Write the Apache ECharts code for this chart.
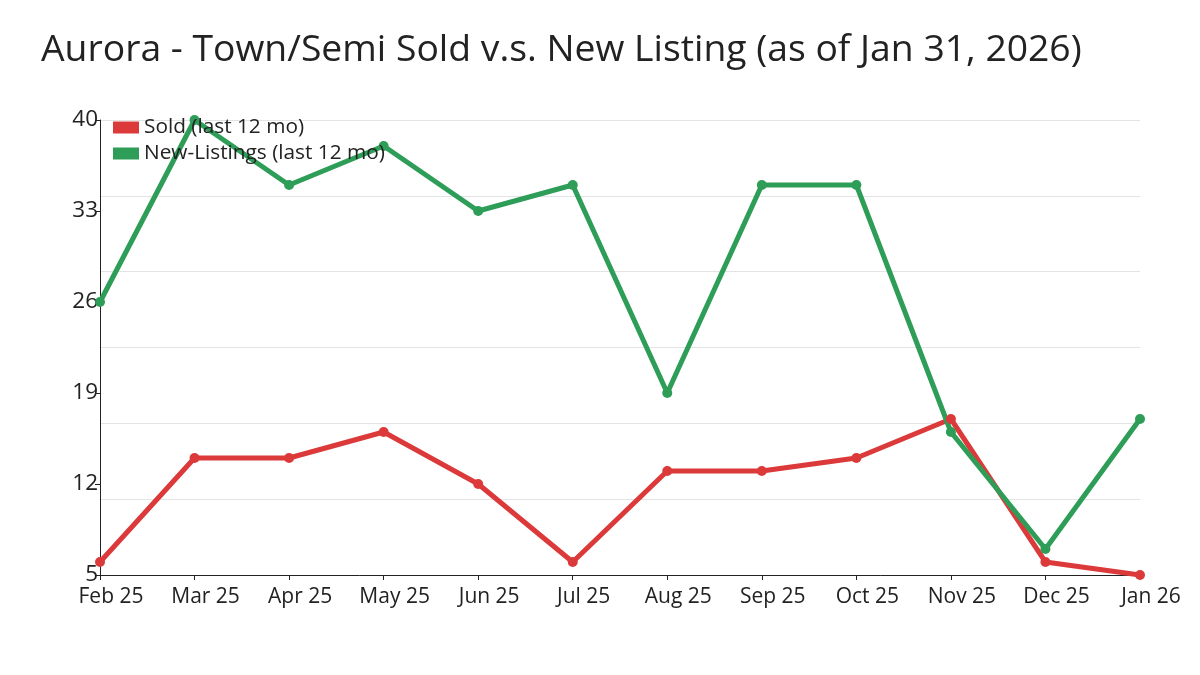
<!DOCTYPE html>
<html>
<head>
<meta charset="utf-8">
<script src="https://cdn.jsdelivr.net/npm/echarts@6/dist/echarts.min.js"></script>
<style>html,body{margin:0;padding:0;background:#fff}#c{width:1200px;height:675px}</style>
</head>
<body>
<div id="c"></div>
<script>
const categories = ['Feb 25','Mar 25','Apr 25','May 25','Jun 25','Jul 25','Aug 25','Sep 25','Oct 25','Nov 25','Dec 25','Jan 26'];
const soldValues = [6, 14, 14, 16, 12, 6, 13, 13, 14, 17, 6, 5];
const newListingValues = [26, 40, 35, 38, 33, 35, 19, 35, 35, 16, 7, 17];
const yTickLabels = [5, 12, 19, 26, 33, 40];

const chart = echarts.init(document.getElementById('c'));
const font = '"Open Sans", "Noto Sans", sans-serif';
chart.setOption({
  animation: false,
  backgroundColor: '#fff',
  title: {
    text: 'Aurora - Town/Semi Sold v.s. New Listing (as of Jan 31, 2026)',
    left: 36, top: 27,
    textStyle: {fontFamily: font, fontSize: 37.3, fontWeight: 'normal', color: '#222'}
  },
  legend: {
    orient: 'vertical', left: 108, top: 112,
    itemWidth: 26, itemHeight: 12, itemGap: 5,
    icon: 'rect',
    textStyle: {fontFamily: font, fontSize: 20.8, color: '#222'},
    data: ['Sold (last 12 mo)', 'New-Listings (last 12 mo)']
  },
  grid: {left: 100, right: 60, top: 120, bottom: 100, containLabel: false},
  xAxis: {
    type: 'category', data: categories, boundaryGap: false,
    axisLine: {lineStyle: {color: '#222', width: 1}},
    axisTick: {show: true, alignWithLabel: true, length: 5, lineStyle: {color: '#222'}},
    axisLabel: {fontFamily: font, fontSize: 21, color: '#222', margin: 12, padding: [0, 0, 0, 22]},
    splitLine: {show: false}
  },
  yAxis: [{
    type: 'value', min: 5, max: 40,
    axisLine: {show: true, lineStyle: {color: '#222', width: 1}},
    axisTick: {show: true, length: 5, lineStyle: {color: '#222'}, customValues: yTickLabels},
    axisLabel: {fontFamily: font, fontSize: 22.5, color: '#222', margin: 2, customValues: yTickLabels},
    splitLine: {show: false}
  }, {
    type: 'value', min: 0, max: 6, interval: 1, position: 'left',
    axisLine: {show: false}, axisTick: {show: false}, axisLabel: {show: false},
    splitLine: {show: true, lineStyle: {color: '#e3e3e3', width: 1}}
  }],
  series: [{
    name: 'Sold (last 12 mo)', type: 'line', data: soldValues,
    yAxisIndex: 0,
    color: '#dc3a3a',
    symbol: 'circle', symbolSize: 10,
    lineStyle: {width: 5, color: '#dc3a3a'},
    itemStyle: {color: '#dc3a3a'}
  }, {
    name: 'New-Listings (last 12 mo)', type: 'line', data: newListingValues,
    yAxisIndex: 0,
    color: '#2e9d58',
    symbol: 'circle', symbolSize: 10,
    lineStyle: {width: 5, color: '#2e9d58'},
    itemStyle: {color: '#2e9d58'}
  }]
});
</script>
</body>
</html>
